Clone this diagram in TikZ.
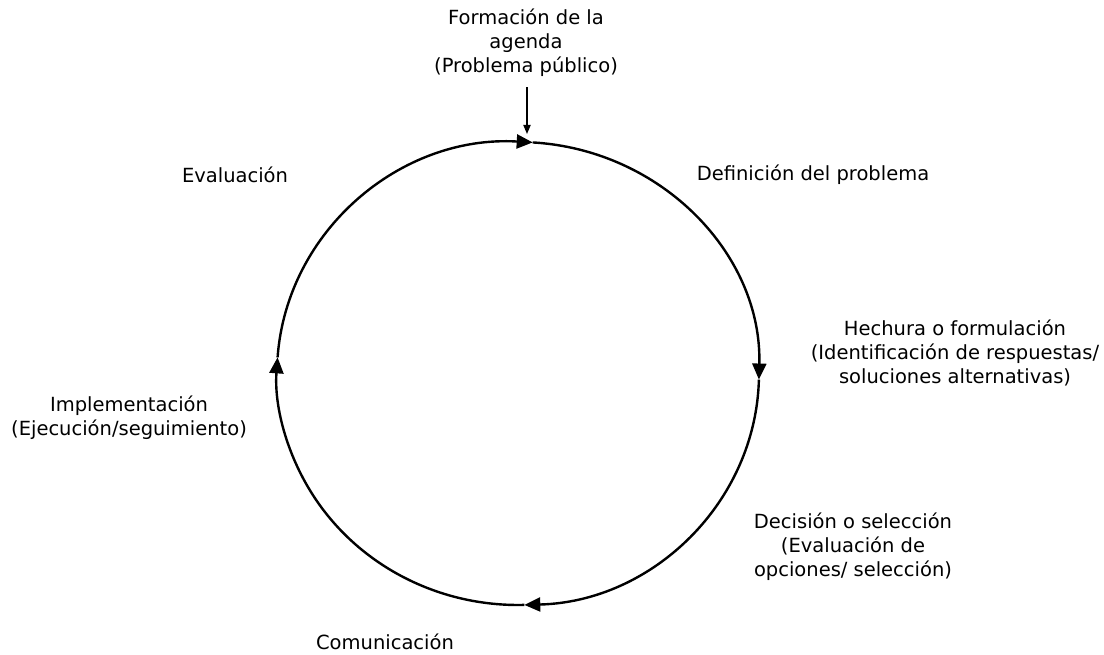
\documentclass[tikz,border=0pt]{standalone}
\usepackage{fontspec}
\setmainfont{DejaVu Sans}
\usetikzlibrary{arrows.meta}
\tikzset{
    stage/.style={align=center,inner sep=0pt,font=\fontsize{9.75}{12}\selectfont},
    cyclearc/.style={-{Triangle[length=8pt,width=7pt]},line width=1.2pt},
    entry/.style={-{Triangle[length=4.5pt,width=3.6pt]},line width=0.6pt}
}

\begin{document}
\begin{tikzpicture}[x=0.5pt,y=0.5pt]

    \useasboundingbox (0,0) rectangle (1104,654);

    % points of the cycle
    \coordinate (c) at (518,280.5);
    \path (c) ++(86.5:241 and 231.5)  coordinate (top);
    \path (c) ++(-1.5:241 and 231.5)  coordinate (right);
    \path (c) ++(-88.5:241 and 231.5) coordinate (bottom);
    \path (c) ++(-184:241 and 231.5)  coordinate (left);
    \coordinate (in) at (527,512);

    % stages
    \node[stage] (agenda)     at (526,611) {Formación de la\\agenda\\(Problema público)};
    \node[stage] (definicion) at (813,479) {Definición del problema};
    \node[stage] (hechura)    at (955,301) {Hechura o formulación\\(Identificación de respuestas/\\soluciones alternativas)};
    \node[stage] (decision)   at (853,107) {Decisión o selección\\(Evaluación de\\opciones/ selección)};
    \node[stage] (comunica)   at (385,12)  {Comunicación};
    \node[stage] (implementa) at (129,236) {Implementación\\(Ejecución/seguimiento)};
    \node[stage] (evaluacion) at (235,479) {Evaluación};

    % cycle
    \draw[cyclearc] (top)    arc[start angle=86.5,  end angle=-1.5,  x radius=241, y radius=231.5];
    \draw[cyclearc] (right)  arc[start angle=-1.5,  end angle=-88.5, x radius=241, y radius=231.5];
    \draw[cyclearc] (bottom) arc[start angle=-88.5, end angle=-184,  x radius=241, y radius=231.5];
    \draw[cyclearc] (left)   arc[start angle=176,   end angle=86.5,  x radius=241, y radius=231.5];

    \draw[entry,shorten <=5pt,shorten >=4pt] (agenda.south -| in) -- (in);

\end{tikzpicture}
\end{document}
